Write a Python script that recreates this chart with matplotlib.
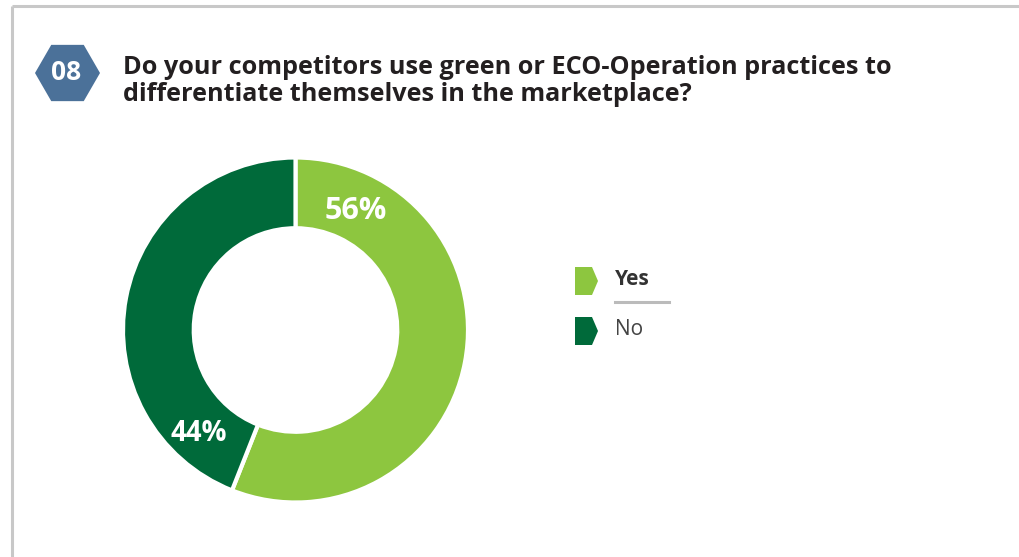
import matplotlib
matplotlib.use("Agg")
import matplotlib.pyplot as plt
from matplotlib.patches import RegularPolygon, Polygon
from matplotlib.lines import Line2D

plt.rcParams['font.family'] = ['Open Sans', 'DejaVu Sans']

# ---- data ----
categories = ["Yes", "No"]
values = [56, 44]
labels = ["56%", "44%"]
colors = ["#8DC63F", "#006A3A"]
question_number = "08"
title_lines = ["Do your competitors use green or ECO-Operation practices to",
               "differentiate themselves in the marketplace?"]

W, H = 1019, 557
fig = plt.figure(figsize=(W / 100, H / 100), dpi=100)
fig.patch.set_facecolor("white")

# overlay axes in pixel coordinates (y down)
ov = fig.add_axes([0, 0, 1, 1])
ov.set_xlim(0, W)
ov.set_ylim(H, 0)
ov.axis("off")

# frame
ov.add_line(Line2D([12, W], [6, 6], color="#C8C8C8", lw=2.2, solid_capstyle="butt"))
ov.add_line(Line2D([12, 12], [6, H], color="#C8C8C8", lw=2.2, solid_capstyle="butt"))

# hexagon badge
ov.add_patch(RegularPolygon((67.5, 73), numVertices=6, radius=32.5,
                            orientation=3.14159265 / 6, facecolor="#4B7199",
                            edgecolor="none"))
ov.text(66.5, 73, question_number, color="white", fontsize=19, fontweight="bold",
        ha="center", va="center")

# title
ov.text(123, 74, title_lines[0], color="#231F20", fontsize=18.2, fontweight="bold",
        ha="left", va="baseline")
ov.text(123, 101, title_lines[1], color="#231F20", fontsize=18.2, fontweight="bold",
        ha="left", va="baseline")

# donut
cx, cy, R = 295.5, 330, 172.5
ax = fig.add_axes([(cx - R) / W, (H - cy - R) / H, 2 * R / W, 2 * R / H])
ax.pie(values, colors=colors, startangle=90, counterclock=False, radius=1,
       wedgeprops=dict(width=0.41, edgecolor="white", linewidth=3))
ax.set_xlim(-1, 1)
ax.set_ylim(-1, 1)
ax.set_aspect("equal")
ax.axis("off")
label_pos = [(0.352, 0.69), (-0.558, -0.60)]
label_sizes = [22, 20]
for lab, (lx, ly), fs in zip(labels, label_pos, label_sizes):
    ax.text(lx, ly, lab, color="white", fontsize=fs, fontweight="bold",
            ha="center", va="center")

# legend
legend_y = [281, 331]
for cat, col, y in zip(categories, colors, legend_y):
    pts = [(575, y - 14), (592, y - 14), (598, y), (592, y + 14), (575, y + 14)]
    ov.add_patch(Polygon(pts, closed=True, facecolor=col, edgecolor="none"))
ov.text(615, 285, categories[0], color="#333333", fontsize=15, fontweight="bold",
        ha="left", va="baseline")
ov.add_line(Line2D([615, 669], [302, 302], color="#BBBBBB", lw=2.2))
ov.text(615, 335, categories[1], color="#444444", fontsize=15,
        ha="left", va="baseline")

fig.savefig("out.png", dpi=100)
